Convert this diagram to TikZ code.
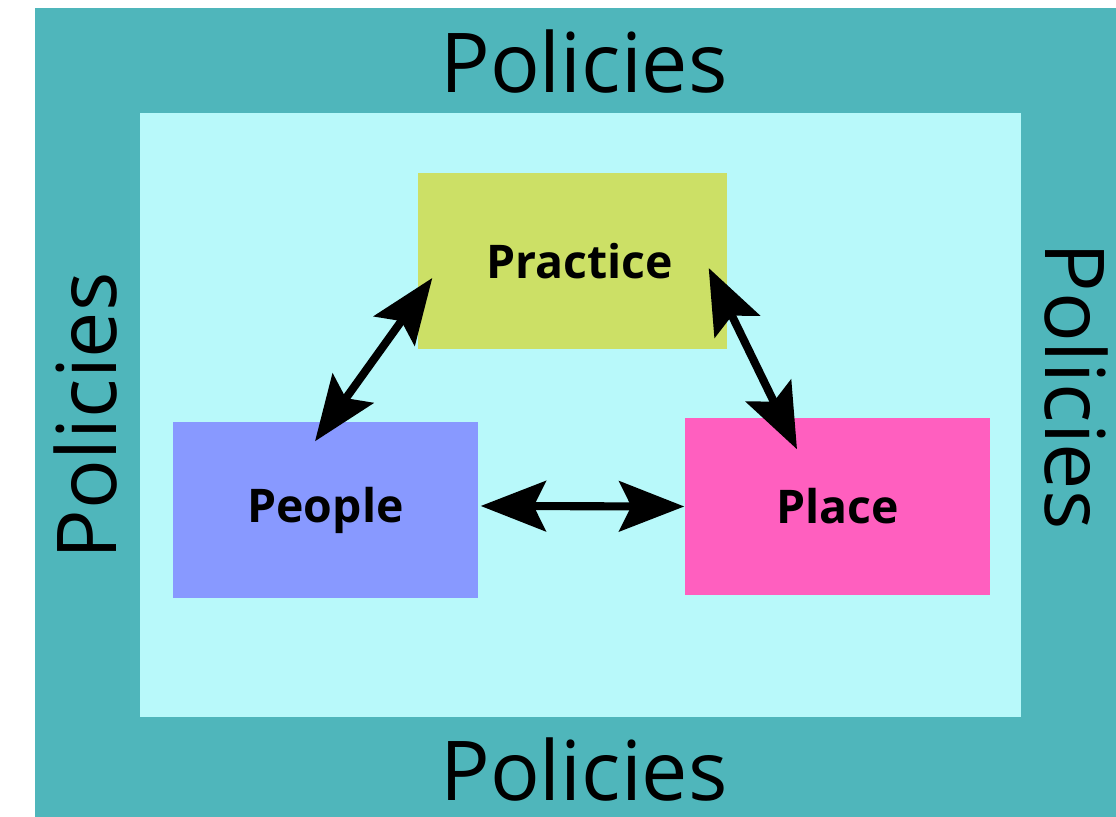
\documentclass[tikz,border=0pt]{standalone}
\usepackage{fontspec}
\setmainfont{Open Sans}
\usepackage{tikz}
\usetikzlibrary{arrows.meta, positioning, calc}
\definecolor{policyteal}{HTML}{4FB6BB}
\definecolor{policybg}{HTML}{B8F9FA}
\definecolor{practicegreen}{HTML}{CCE066}
\definecolor{peopleblue}{HTML}{8899FF}
\definecolor{placepink}{HTML}{FF5FBF}

\tikzset{
    pbox/.style={minimum width=3.05cm, minimum height=1.76cm, inner sep=0pt,
        font=\fontsize{13.2}{16}\selectfont\bfseries},
    policy/.style={inner sep=0pt, anchor=base, font=\fontsize{23.5}{26}\selectfont},
    biarrow/.style={{Stealth[length=6.5mm, width=5mm, inset=1.2mm]}-{Stealth[length=6.5mm, width=5mm, inset=1.2mm]}, line width=2.3pt}
}

\begin{document}
\begin{tikzpicture}
    \useasboundingbox (0,0) rectangle (11.16,8.17);

    % Frames
    \fill[policyteal] (0.35,0) rectangle (11.16,8.09);
    \fill[policybg] (1.40,1.00) rectangle (10.21,7.04);

    % Policies on every side
    \node[policy] (ptop) at (5.84,7.24) {Policies};
    \node[policy] (pbottom) at (5.84,0.16) {Policies};
    \node[policy, rotate=90] (pleft) at (1.17,4.01) {Policies};
    \node[policy, rotate=-90] (pright) at (10.45,4.31) {Policies};

    % The three boxes
    \node[pbox, fill=practicegreen, minimum width=3.09cm] (practice) at (5.725,5.56) {\hspace*{0.14cm}Practice};
    \node[pbox, fill=peopleblue] (people) at (3.255,3.07) {People};
    \node[pbox, fill=placepink, minimum height=1.77cm] (place) at (8.375,3.105) {Place};

    % Arrow ends
    \coordinate (prL) at ($(practice.west)+(0.15,-0.17)$);
    \coordinate (prR) at ($(practice.east)+(-0.19,-0.07)$);
    \coordinate (peT) at ($(people.north)+(-0.105,-0.20)$);
    \coordinate (plT) at ($(place.north)+(-0.405,-0.32)$);
    \coordinate (peR) at ($(people.east)+(0.02,0.04)$);

    % Links
    \draw[biarrow] (prL) -- (peT);
    \draw[biarrow] (prR) -- (plT);
    \draw[biarrow] (peR) -- (place.west);
\end{tikzpicture}
\end{document}
